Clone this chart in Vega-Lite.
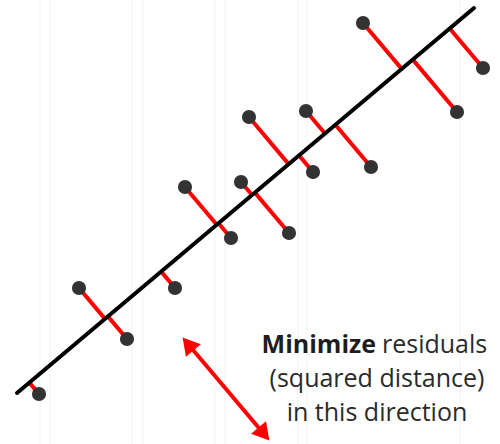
{
  "$schema": "https://vega.github.io/schema/vega-lite/v6.json",
  "width": 500,
  "height": 444,
  "padding": 0,
  "autosize": {"type": "none"},
  "background": "white",
  "config": {"view": {"stroke": null}},
  "datasets": {
    "grid": [{"x": 40}, {"x": 50}, {"x": 132}, {"x": 143}, {"x": 215}, {"x": 225}, {"x": 298}, {"x": 307}, {"x": 460}],
    "fit": [{"x": 17, "y": 393, "x2": 474, "y2": 8}],
    "pts": [
      {"x": 39, "y": 394, "fx": 29.4, "fy": 382.6},
      {"x": 79, "y": 288, "fx": 105.0, "fy": 318.9},
      {"x": 127, "y": 339, "fx": 107.9, "fy": 316.4},
      {"x": 175, "y": 288, "fx": 161.2, "fy": 271.6},
      {"x": 185, "y": 187, "fx": 216.8, "fy": 224.7},
      {"x": 231, "y": 238, "fx": 218.5, "fy": 223.2},
      {"x": 241, "y": 182, "fx": 252.0, "fy": 195.0},
      {"x": 289, "y": 233, "fx": 254.9, "fy": 192.6},
      {"x": 249, "y": 117, "fx": 288.7, "fy": 164.1},
      {"x": 306, "y": 111, "fx": 325.0, "fy": 133.5},
      {"x": 313, "y": 172, "fx": 299.0, "fy": 155.4},
      {"x": 371, "y": 167, "fx": 335.4, "fy": 124.8},
      {"x": 363, "y": 23, "fx": 401.7, "fy": 68.9},
      {"x": 457, "y": 112, "fx": 412.8, "fy": 59.6},
      {"x": 483, "y": 68, "fx": 449.7, "fy": 28.5}
    ],
    "arrow": [{"x": 188, "y": 344, "x2": 264, "y2": 434}],
    "heads": [{"x": 188, "y": 344, "a": 320}, {"x": 264, "y": 434, "a": 140}],
    "bold": [{"x": 378, "y": 353, "t": "Minimize"}],
    "reg": [
      {"x": 380, "y": 353, "t": "residuals"}
    ],
    "lines": [
      {"x": 377, "y": 387, "t": "(squared distance)"},
      {"x": 377, "y": 421, "t": "in this direction"}
    ]
  },
  "layer": [
    {
      "data": {"name": "grid"},
      "mark": {"type": "rule", "color": "#f3f3f3", "strokeWidth": 1},
      "encoding": {
        "x": {"field": "x", "type": "quantitative", "scale": {"domain": [0, 500]}, "axis": null}
      }
    },
    {
      "data": {"name": "pts"},
      "mark": {"type": "rule", "color": "#ff0000", "strokeWidth": 4},
      "encoding": {
        "x": {"field": "x", "type": "quantitative", "scale": {"domain": [0, 500]}, "axis": null},
        "y": {"field": "y", "type": "quantitative", "scale": {"domain": [444, 0]}, "axis": null},
        "x2": {"field": "fx"},
        "y2": {"field": "fy"}
      }
    },
    {
      "data": {"name": "fit"},
      "mark": {"type": "rule", "color": "#000000", "strokeWidth": 4, "strokeCap": "round"},
      "encoding": {
        "x": {"field": "x", "type": "quantitative", "scale": {"domain": [0, 500]}, "axis": null},
        "y": {"field": "y", "type": "quantitative", "scale": {"domain": [444, 0]}, "axis": null},
        "x2": {"field": "x2"},
        "y2": {"field": "y2"}
      }
    },
    {
      "data": {"name": "pts"},
      "mark": {"type": "circle", "color": "#333333", "opacity": 1, "size": 200},
      "encoding": {
        "x": {"field": "x", "type": "quantitative", "scale": {"domain": [0, 500]}, "axis": null},
        "y": {"field": "y", "type": "quantitative", "scale": {"domain": [444, 0]}, "axis": null}
      }
    },
    {
      "data": {"name": "arrow"},
      "mark": {"type": "rule", "color": "#ff0000", "strokeWidth": 4},
      "encoding": {
        "x": {"field": "x", "type": "quantitative", "scale": {"domain": [0, 500]}, "axis": null},
        "y": {"field": "y", "type": "quantitative", "scale": {"domain": [444, 0]}, "axis": null},
        "x2": {"field": "x2"},
        "y2": {"field": "y2"}
      }
    },
    {
      "data": {"name": "heads"},
      "mark": {"type": "point", "shape": "triangle-up", "filled": true, "color": "#ff0000", "opacity": 1, "size": 380},
      "encoding": {
        "x": {"field": "x", "type": "quantitative", "scale": {"domain": [0, 500]}, "axis": null},
        "y": {"field": "y", "type": "quantitative", "scale": {"domain": [444, 0]}, "axis": null},
        "angle": {"field": "a", "type": "quantitative", "scale": null}
      }
    },
    {
      "data": {"name": "bold"},
      "mark": {"type": "text", "align": "right", "baseline": "alphabetic", "font": "Open Sans", "fontSize": 25, "fontWeight": "bold", "color": "#1e1e1e", "dx": -2},
      "encoding": {
        "x": {"field": "x", "type": "quantitative", "scale": {"domain": [0, 500]}, "axis": null},
        "y": {"field": "y", "type": "quantitative", "scale": {"domain": [444, 0]}, "axis": null},
        "text": {"field": "t"}
      }
    },
    {
      "data": {"name": "reg"},
      "mark": {"type": "text", "align": "left", "baseline": "alphabetic", "font": "Open Sans", "fontSize": 25, "fontWeight": 500, "color": "#2a2a2a", "dx": 2},
      "encoding": {
        "x": {"field": "x", "type": "quantitative", "scale": {"domain": [0, 500]}, "axis": null},
        "y": {"field": "y", "type": "quantitative", "scale": {"domain": [444, 0]}, "axis": null},
        "text": {"field": "t"}
      }
    },
    {
      "data": {"name": "lines"},
      "mark": {"type": "text", "align": "center", "baseline": "alphabetic", "font": "Open Sans", "fontSize": 25, "fontWeight": 500, "color": "#2a2a2a"},
      "encoding": {
        "x": {"field": "x", "type": "quantitative", "scale": {"domain": [0, 500]}, "axis": null},
        "y": {"field": "y", "type": "quantitative", "scale": {"domain": [444, 0]}, "axis": null},
        "text": {"field": "t"}
      }
    }
  ]
}
